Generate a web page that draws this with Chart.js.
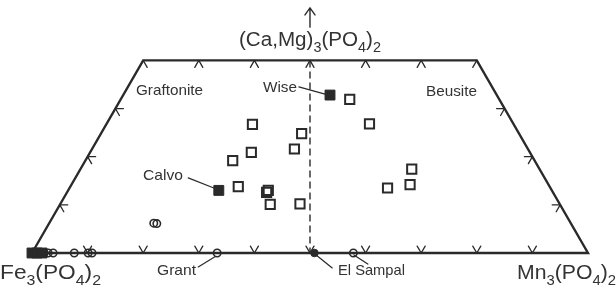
<!DOCTYPE html>
<html>
<head>
<meta charset="utf-8">
<script src="https://cdn.jsdelivr.net/npm/chart.js@4.4.1/dist/chart.umd.min.js"></script>
<style>
  html, body { margin: 0; padding: 0; background: #fff; }
  canvas { display: block; }
</style>
</head>
<body>
<canvas id="chart" width="616" height="291"></canvas>
<script>
// compositions in mol % ; Fe3(PO4)2 = 100 - Ca - Mn
const openSquareCa = [31.9, 26.8, 26.7, 24.8, 21.6, 20.9, 19.2, 17.4, 14.2, 13.5, 13.8, 12.6, 13.0, 10.1, 10.2];
const openSquareMn = [41.2, 47.3, 26.3, 36.1, 36.4, 29.0, 26.5, 59.6, 60.9, 57.2, 30.2, 35.9, 36.0, 37.8, 43.1];

const filledSquareCa = [32.8, 13.0, 0, 0, 0];   // Wise, Calvo, Fe end-members
const filledSquareMn = [37.2, 27.1, 0, 0.9, 1.8];

const openCircleCa = [6.2, 6.1, 0, 0, 0, 0, 0, 0, 0, 0, 0];
const openCircleMn = [18.8, 19.4, 1.4, 2.2, 2.9, 3.8, 7.6, 10.1, 10.8, 33.3, 57.8]; // ..., Grant, El Sampal

const filledCircleCa = [0];
const filledCircleMn = [50.8]; // El Sampal

// trapezoid outline (Ca, Mn) and the Fe = Mn line
const frameCa = [0, 0, 40, 40, 0];
const frameMn = [0, 100, 60, 0, 0];
const midCa = [40, 0];
const midMn = [30, 50];

// tick positions along the edges
const bottomTicks = [10, 20, 30, 40, 50, 60, 70, 80, 90];
const topTicks = [20, 30, 40, 50, 60, 70, 80];
const sideTicks = [10, 20, 30];

// ternary -> plot coords: x = Mn + Ca/2, y = Ca
const toXY = (ca, mn) => ca.map((c, i) => ({ x: mn[i] + c / 2, y: c }));

const FONT = '"Liberation Sans", Arial, Helvetica, sans-serif';
const INK = '#2a2a2a';
const TEXT = '#333';

// text annotations (x, y in plot units; y = text baseline)
const textLabels = [
    { parts: [['(Ca,Mg)', 0], ['3', 1], ['(PO', 0], ['4', 1], [')', 0], ['2', 1]], x: 50, y: 43.0, align: 'center', w: 142, size: 20 },
    { parts: [['Fe', 0], ['3', 1], ['(PO', 0], ['4', 1], [')', 0], ['2', 1]], x: -5.755, y: -5.3, align: 'left', w: 101, size: 20 },
    { parts: [['Mn', 0], ['3', 1], ['(PO', 0], ['4', 1], [')', 0], ['2', 1]], x: 105.04, y: -5.3, align: 'right', w: 99, size: 20 },
    { parts: [['Graftonite', 0]], x: 24.73, y: 32.8, align: 'center', w: 67, size: 15 },
    { parts: [['Beusite', 0]], x: 75.45, y: 32.6, align: 'center', w: 51, size: 15 },
    { parts: [['Wise', 0]], x: 44.6, y: 33.4, align: 'center', w: 34, size: 15 },
    { parts: [['Calvo', 0]], x: 23.56, y: 15.2, align: 'center', w: 40, size: 15 },
    { parts: [['Grant', 0]], x: 26.0, y: -4.57, align: 'center', w: 39, size: 15 },
    { parts: [['El Sampal', 0]], x: 61.06, y: -4.57, align: 'center', w: 67, size: 15 }
];

// leader lines from labels to points
const leaders = [
    [48.0, 34.5, 52.7, 33.0],   // Wise
    [28.1, 15.6, 32.7, 13.5],   // Calvo
    [29.9, -2.9, 32.9, -0.8],   // Grant
    [54.0, -3.1, 51.1, -0.4],   // El Sampal
    [60.4, -2.3, 57.9, -0.4]    // El Sampal
];

function drawRich(ctx, lab, px, py) {
    const sub = Math.round(lab.size * 0.7);
    let w = 0;
    for (const [t, s] of lab.parts) {
        ctx.font = (s ? sub : lab.size) + 'px ' + FONT;
        w += ctx.measureText(t).width;
    }
    const sx = lab.w ? lab.w / w : 1;
    let x0 = px;
    if (lab.align === 'center') x0 = px - w * sx / 2;
    if (lab.align === 'right') x0 = px - w * sx;
    ctx.save();
    ctx.translate(x0, py);
    ctx.scale(sx, 1);
    ctx.fillStyle = TEXT;
    ctx.textBaseline = 'alphabetic';
    let cx = 0;
    for (const [t, s] of lab.parts) {
        ctx.font = (s ? sub : lab.size) + 'px ' + FONT;
        ctx.fillText(t, cx, s ? Math.round(lab.size * 0.28) : 0);
        cx += ctx.measureText(t).width;
    }
    ctx.restore();
}

const decor = {
    id: 'ternaryDecor',
    afterDatasetsDraw(chart) {
        const ctx = chart.ctx;
        const X = v => chart.scales.x.getPixelForValue(v);
        const Y = v => chart.scales.y.getPixelForValue(v);
        const L = 8;
        const s = 0.5, c = 0.866;

        ctx.save();
        ctx.strokeStyle = INK;
        ctx.lineWidth = 1.3;
        ctx.lineCap = 'round';

        const chevron = (x, y, arms) => {
            const bx = X(x), by = Y(y);
            ctx.beginPath();
            for (const [dx, dy] of arms) {
                ctx.moveTo(bx, by);
                ctx.lineTo(bx + dx * L, by + dy * L);
            }
            ctx.stroke();
        };
        bottomTicks.forEach(t => chevron(t, 0, [[s, -c], [-s, -c]]));
        topTicks.forEach(t => chevron(t, 40, [[-s, c], [s, c]]));
        sideTicks.forEach(ca => {
            chevron(ca / 2, ca, [[1, 0], [s, c]]);
            chevron(100 - ca / 2, ca, [[-1, 0], [-s, c]]);
        });

        // arrow towards the (Ca,Mg) apex
        const ax = X(50), ay0 = Y(46.9), ay1 = Y(50.9);
        ctx.lineWidth = 1.4;
        ctx.beginPath();
        ctx.moveTo(ax, ay0);
        ctx.lineTo(ax, ay1);
        ctx.moveTo(ax - 5, ay1 + 7);
        ctx.lineTo(ax, ay1);
        ctx.lineTo(ax + 5, ay1 + 7);
        ctx.stroke();

        // leaders
        ctx.lineWidth = 1.2;
        leaders.forEach(([x1, y1, x2, y2]) => {
            ctx.beginPath();
            ctx.moveTo(X(x1), Y(y1));
            ctx.lineTo(X(x2), Y(y2));
            ctx.stroke();
        });
        ctx.restore();

        textLabels.forEach(lab => drawRich(ctx, lab, X(lab.x), Y(lab.y)));
    }
};

new Chart(document.getElementById('chart').getContext('2d'), {
    type: 'scatter',
    data: {
        datasets: [
            {
                label: 'Wise / Calvo',
                data: toXY(filledSquareCa, filledSquareMn),
                pointStyle: 'rect', pointRadius: 7,
                backgroundColor: INK, borderColor: INK, borderWidth: 1,
                order: 0
            },
            {
                label: 'Samples',
                data: toXY(openSquareCa, openSquareMn),
                pointStyle: 'rect', pointRadius: 6.5,
                backgroundColor: 'rgba(255,255,255,0)', borderColor: INK, borderWidth: 2,
                order: 1
            },
            {
                label: 'El Sampal',
                data: toXY(filledCircleCa, filledCircleMn),
                pointStyle: 'circle', pointRadius: 3.8,
                backgroundColor: INK, borderColor: INK, borderWidth: 1,
                order: 2
            },
            {
                label: 'Literature',
                data: toXY(openCircleCa, openCircleMn),
                pointStyle: 'circle', pointRadius: 3.7,
                backgroundColor: 'rgba(255,255,255,0)', borderColor: INK, borderWidth: 1.6,
                order: 3
            },
            {
                label: 'Fe = Mn',
                data: toXY(midCa, midMn),
                showLine: true, pointRadius: 0,
                borderColor: INK, borderWidth: 1.4, borderDash: [7, 4],
                order: 4
            },
            {
                label: 'frame',
                data: toXY(frameCa, frameMn),
                showLine: true, pointRadius: 0,
                borderColor: INK, borderWidth: 2.4,
                order: 5
            }
        ]
    },
    options: {
        responsive: false,
        animation: false,
        devicePixelRatio: 1,
        layout: { padding: 0, autoPadding: false },
        plugins: { legend: { display: false }, tooltip: { enabled: false } },
        scales: {
            x: { type: 'linear', display: false, min: -5.755, max: 105.04 },
            y: { type: 'linear', display: false, min: -7.892, max: 52.54 }
        }
    },
    plugins: [decor]
});
</script>
</body>
</html>
